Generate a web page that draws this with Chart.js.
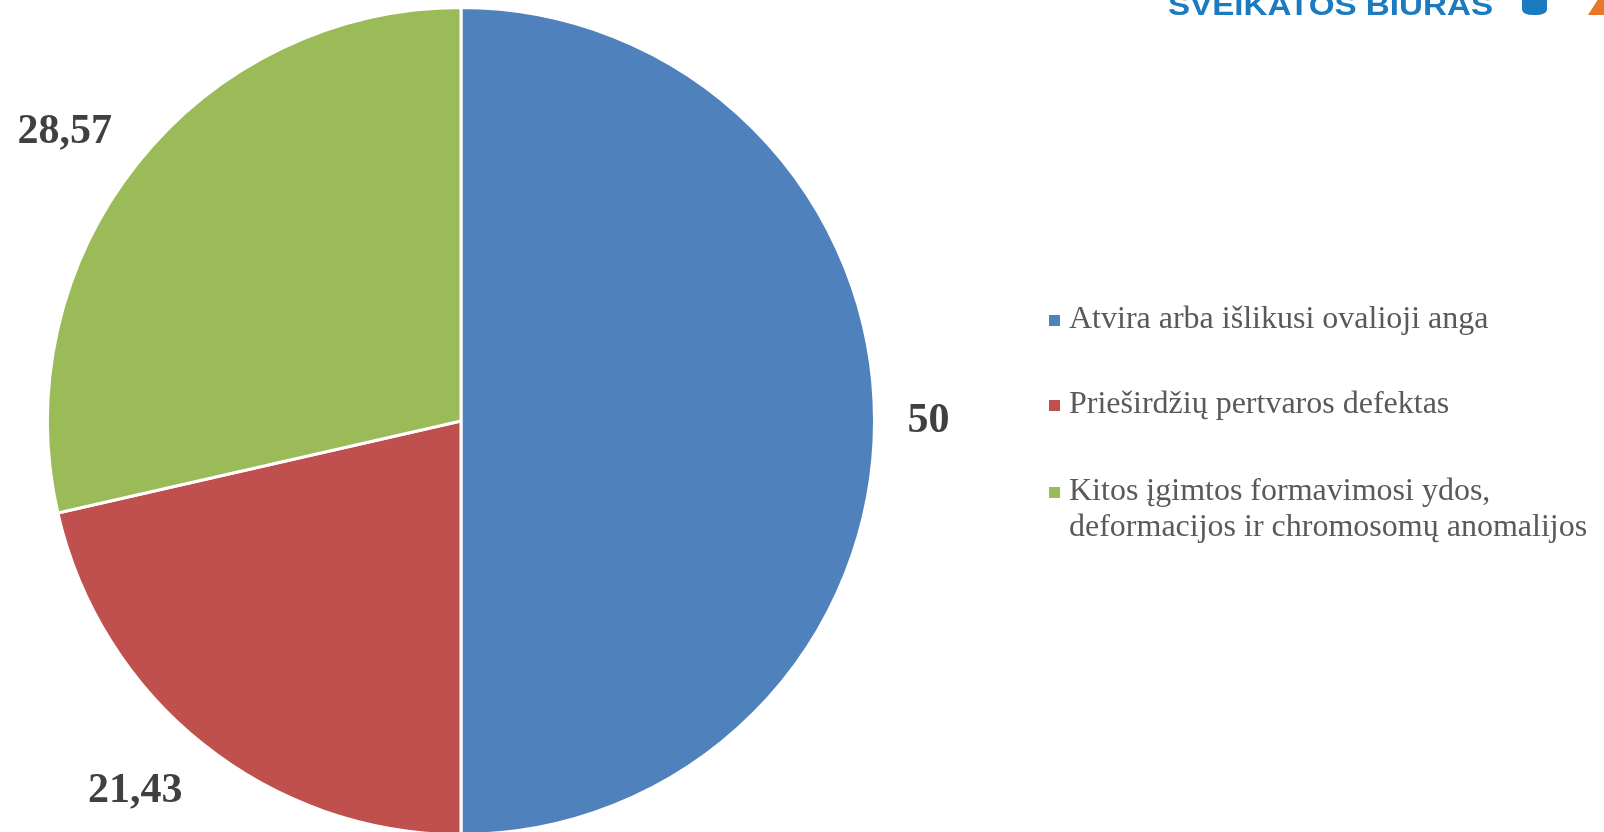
<!DOCTYPE html>
<html><head><meta charset="utf-8">
<script src="https://cdn.jsdelivr.net/npm/chart.js@4/dist/chart.umd.min.js"></script>
<style>html,body{margin:0;padding:0;background:#fff;overflow:hidden;}#wrap{position:relative;width:1604px;height:832px;overflow:hidden;}</style>
</head><body><div id="wrap"><canvas id="c" width="1604" height="850"></canvas></div>
<script>
const categories = [
  "Atvira arba išlikusi ovalioji anga",
  "Prieširdžių pertvaros defektas",
  ["Kitos įgimtos formavimosi ydos,", "deformacijos ir chromosomų anomalijos"]
];
const values = [50, 21.43, 28.57];
const valueLabels = ["50", "21,43", "28,57"];
const colors = ["#4F81BD", "#C0504D", "#9BBB59"];

const labelPlugin = {
  id: 'outLabels',
  afterDatasetsDraw(chart) {
    const ctx = chart.ctx;
    const meta = chart.getDatasetMeta(0);
    ctx.save();
    ctx.font = 'bold 42px "Liberation Serif", "Times New Roman", serif';
    ctx.fillStyle = '#404040';
    meta.data.forEach((arc, i) => {
      const p = arc.getProps(['x','y','startAngle','endAngle','outerRadius']);
      const a = (p.startAngle + p.endAngle) / 2;
      const c = Math.cos(a), s = Math.sin(a);
      const d = p.outerRadius + 33;
      const x = p.x + c * d, y = p.y + s * d;
      ctx.textAlign = Math.abs(c) < 0.2 ? 'center' : (c < 0 ? 'right' : 'left');
      ctx.textBaseline = Math.abs(s) < 0.3 ? 'middle' : (s < 0 ? 'alphabetic' : 'top');
      ctx.fillText(valueLabels[i], x, y);
    });
    ctx.restore();
  }
};

const legendPlugin = {
  id: 'sideLegend',
  afterDraw(chart) {
    const ctx = chart.ctx;
    ctx.save();
    ctx.font = '32px "Liberation Serif", "Times New Roman", serif';
    ctx.textBaseline = 'middle';
    ctx.textAlign = 'left';
    const x0 = 1049, rowY = [320, 405, 492], lineH = 36;
    chart.data.labels.forEach((lab, i) => {
      const lines = Array.isArray(lab) ? lab : [lab];
      ctx.fillStyle = chart.data.datasets[0].backgroundColor[i];
      ctx.fillRect(x0, rowY[i] - 5, 11, 11);
      ctx.fillStyle = '#595959';
      lines.forEach((t, k) => ctx.fillText(t, x0 + 20, rowY[i] + k * lineH));
    });
    // logo fragment
    ctx.font = 'bold 30px "Liberation Sans", Arial, sans-serif';
    ctx.fillStyle = '#1A7BC0';
    ctx.textBaseline = 'alphabetic';
    const t = 'SVEIKATOS BIURAS';
    const w = ctx.measureText(t).width;
    ctx.save();
    ctx.translate(1168, 15);
    ctx.scale(325 / w, 1);
    ctx.fillText(t, 0, 0);
    ctx.restore();
    ctx.beginPath();
    ctx.moveTo(1522, -5); ctx.lineTo(1522, 9);
    ctx.quadraticCurveTo(1522, 15, 1534, 15);
    ctx.quadraticCurveTo(1547, 15, 1547, 9);
    ctx.lineTo(1547, -5); ctx.closePath(); ctx.fill();
    ctx.fillStyle = '#E8762B';
    ctx.beginPath(); ctx.moveTo(1588, 15); ctx.lineTo(1604, 15); ctx.lineTo(1604, -10); ctx.closePath(); ctx.fill();
    ctx.restore();
  }
};

new Chart(document.getElementById('c'), {
  type: 'pie',
  data: {
    labels: categories,
    datasets: [{
      data: values,
      backgroundColor: colors,
      borderColor: '#FFFFFF',
      borderWidth: 3,
      hoverOffset: 0
    }]
  },
  options: {
    responsive: false,
    animation: false,
    layout: { padding: { left: 46, right: 728, top: 6, bottom: 14 } },
    plugins: { legend: { display: false }, tooltip: { enabled: false } }
  },
  plugins: [labelPlugin, legendPlugin]
});
</script></body></html>
